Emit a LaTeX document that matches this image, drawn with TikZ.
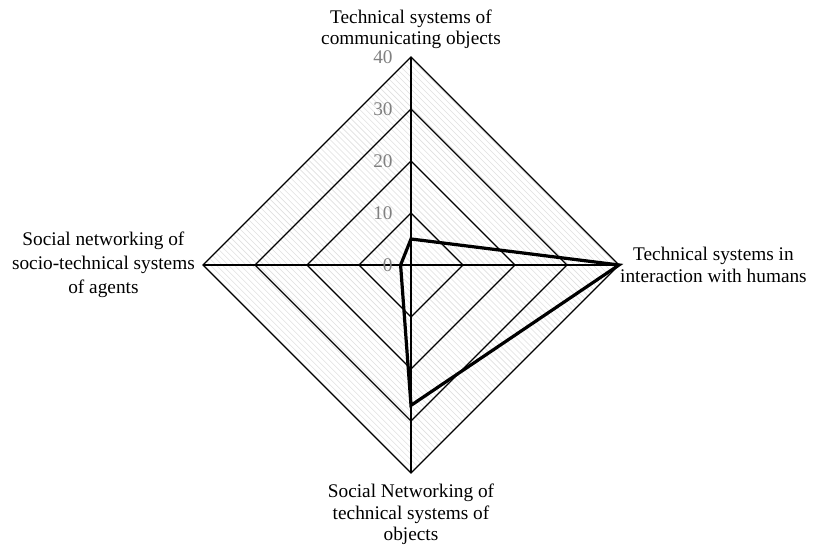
\documentclass[tikz,border=0pt]{standalone}
\usepackage{fontspec}
\setmainfont{Liberation Serif}
\usetikzlibrary{positioning}

\tikzset{
  grid line/.style={black, line width=1.2pt},
  hatch line/.style={gray!25, line width=0.6pt},
  axis label/.style={align=center, inner sep=1pt, font=\fontsize{19.3}{21.5}\selectfont},
  tick label/.style={anchor=east, inner sep=0pt, text=gray, font=\fontsize{19.3}{21.5}\selectfont},
  data line/.style={black, line width=3.2pt, line join=miter}
}

\begin{document}
\begin{tikzpicture} [x=5.2pt, y=5.2pt]
\useasboundingbox (-79.04,-55) rectangle (78.27,50.96);

\coordinate (c) at (0,0);
\coordinate (t) at (0,40);
\coordinate (r) at (40,0);
\coordinate (b) at (0,-40);
\coordinate (l) at (-40,0);

\begin{scope}
\clip (t) -- (r) -- (b) -- (l) -- cycle;
\foreach \k in {-80,-78.85,...,80} \draw[hatch line] (\k-45,45) -- (\k+45,-45);
\end{scope}

\foreach \v in {10,20,30,40} \draw[grid line] (0,\v) -- (\v,0) -- (0,-\v) -- (-\v,0) -- cycle;
\draw[grid line] (t) -- (b) (l) -- (r);

\foreach \v in {0,10,20,30,40} \node[tick label] (tick\v) at (-3.5,\v) {\v};

\coordinate (dt) at (0,5);
\coordinate (dr) at (40,0);
\coordinate (db) at (0,-27);
\coordinate (dl) at (-2,0);
\draw[data line] (dt) -- (dr) -- (db) -- (dl) -- cycle;

\node[axis label, above=7pt of t] (lt) {Technical systems of\\communicating objects};
\node[axis label, right=0pt of r] (lr) {Technical systems in\\interaction with humans};
\node[axis label, below=10pt of b] (lb) {Social Networking of\\technical systems of\\objects};
\node[axis label, left=7pt of l, font=\fontsize{19.3}{24}\selectfont] (ll) {Social networking of\\socio-technical systems\\of agents};

\end{tikzpicture}
\end{document}
